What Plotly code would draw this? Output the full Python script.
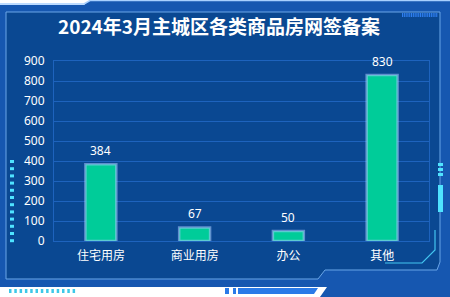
import plotly.graph_objects as go

categories = ["住宅用房", "商业用房", "办公", "其他"]
values = [384, 67, 50, 830]
title = "2024年3月主城区各类商品房网签备案"
y_ticks = [0, 100, 200, 300, 400, 500, 600, 700, 800, 900]

BG = "#0a4892"
GRID = "#1e63bd"

fig = go.Figure()
fig.add_trace(go.Bar(
    x=categories, y=values,
    marker=dict(color="#00cc99", line=dict(color="rgba(170,200,255,0.55)", width=2.5)),
    width=0.33,
))

annotations = [
    dict(x=c, y=v, xref="x", yref="y", text=str(v), showarrow=False, yshift=14,
         yanchor="middle", font=dict(color="white", size=12, family="Noto Sans"))
    for c, v in zip(categories, values)
]

L, R, T, B = 54, 21, 61, 56
W = 450 - L - R
H = 297 - T - B
def X(x):
    return (x - L) / W
def Y(y):
    return (297 - B - y) / H

def path(points, close=True):
    s = "M " + " L ".join(f"{X(a):.5f},{Y(b):.5f}" for a, b in points)
    return s + (" Z" if close else "")

shapes = []
# outer blue band
shapes.append(dict(type="path", xref="paper", yref="paper", layer="below",
    path=path([(0, 5), (84, 5), (90, 0), (450, 0), (450, 297), (320, 297), (327, 287), (0, 287)]),
    fillcolor="#1657b0", line=dict(width=0)))
# inner panel
shapes.append(dict(type="path", xref="paper", yref="paper", layer="below",
    path=path([(6, 12), (440, 12), (440, 262), (437, 270), (325, 270), (318, 279), (6, 279)]),
    fillcolor=BG, line=dict(color="#6aa6e8", width=1)))
# top line
shapes.append(dict(type="path", xref="paper", yref="paper", layer="below",
    path=path([(0, 4), (84, 4), (90, 0.5), (450, 0.5)], close=False),
    line=dict(color="#a8d0ff", width=1.5)))
# left cyan dashes
for i in range(12):
    y = 160 + i * 7.2
    shapes.append(dict(type="rect", xref="paper", yref="paper",
        x0=X(10), x1=X(14), y0=Y(y), y1=Y(y + 3), fillcolor="#4fe3ff", line=dict(width=0)))
# bottom-left dots
for i in range(13):
    x = 9 + i * 5.3
    shapes.append(dict(type="rect", xref="paper", yref="paper",
        x0=X(x), x1=X(x + 2.5), y0=Y(289), y1=Y(293), fillcolor="#3cc8e8", line=dict(width=0)))
# right cyan bars
for i in range(3):
    y = 163 + i * 5
    shapes.append(dict(type="rect", xref="paper", yref="paper",
        x0=X(438), x1=X(443), y0=Y(y), y1=Y(y + 3), fillcolor="#4fe3ff", line=dict(width=0)))
shapes.append(dict(type="rect", xref="paper", yref="paper",
    x0=X(438), x1=X(443), y0=Y(185), y1=Y(212), fillcolor="#4fe3ff", line=dict(width=0)))
# top-right segmented bar
for i in range(20):
    x = 402 + i * 1.8
    shapes.append(dict(type="rect", xref="paper", yref="paper",
        x0=X(x), x1=X(x + 1.1), y0=Y(13), y1=Y(17), fillcolor="#2f7ff0", line=dict(width=0)))
# bottom middle bars
shapes.append(dict(type="rect", xref="paper", yref="paper",
    x0=X(225), x1=X(229), y0=Y(288), y1=Y(294), fillcolor="#2a7ae8", line=dict(width=0)))
shapes.append(dict(type="rect", xref="paper", yref="paper",
    x0=X(233), x1=X(236), y0=Y(288), y1=Y(294), fillcolor="#2a7ae8", line=dict(width=0)))
shapes.append(dict(type="path", xref="paper", yref="paper",
    path=path([(238, 288), (318, 288), (314, 294), (238, 294)]), fillcolor="#2a7ae8", line=dict(width=0)))
# bottom-right cyan corner line
shapes.append(dict(type="path", xref="paper", yref="paper",
    path=path([(385, 263), (422, 263), (435, 250), (435, 230)], close=False),
    line=dict(color="#43c6f0", width=1.2)))

fig.update_layout(
    width=450, height=297,
    margin=dict(l=L, r=R, t=T, b=B),
    paper_bgcolor="white",
    plot_bgcolor=BG,
    shapes=shapes,
    annotations=annotations,
    showlegend=False,
    font=dict(family="Noto Sans CJK SC", color="white"),
    title=dict(text=title, x=219 / 450, xanchor="center", y=1 - 27 / 297, yanchor="middle",
               font=dict(size=19, color="white", family="Noto Sans CJK SC", weight="bold")),
    xaxis=dict(showgrid=False, showline=True, linecolor=GRID, mirror=True,
               tickfont=dict(size=12, color="white"), ticks="", ticklabelstandoff=4),
    yaxis=dict(range=[0, 900], tickvals=y_ticks, showgrid=True, gridcolor=GRID, gridwidth=1,
               showline=True, linecolor=GRID, mirror=True, zeroline=False,
               tickfont=dict(size=12, color="white", family="Noto Sans"), ticks="", ticklabelstandoff=6),
    bargap=0.67,
)

fig.write_html("out.html")
